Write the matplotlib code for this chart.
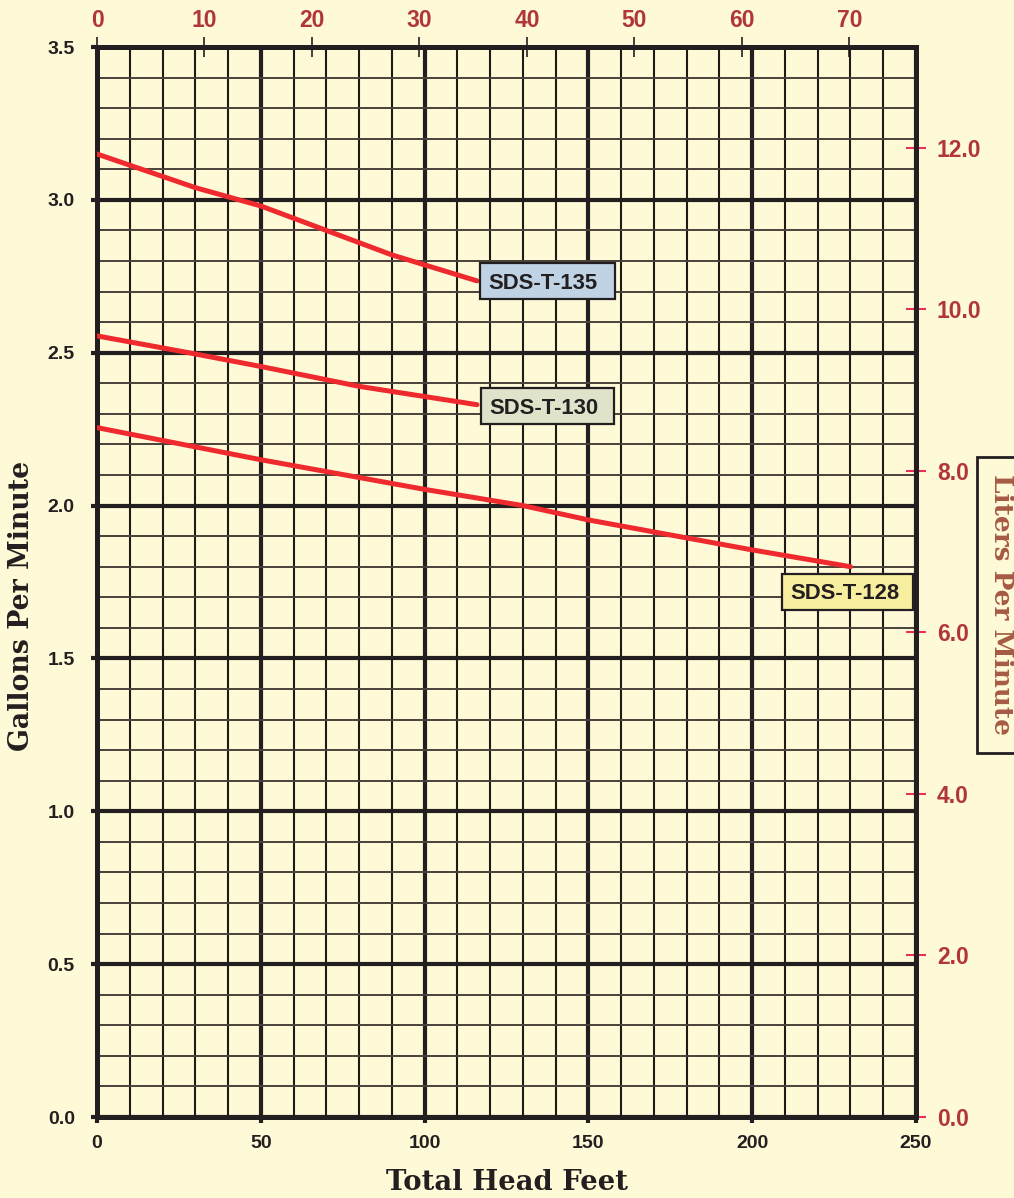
import numpy as np
import matplotlib
matplotlib.use("Agg")
import matplotlib.pyplot as plt
from matplotlib import font_manager
from matplotlib.patches import Rectangle

# ---------------- data ----------------
head_135 = [0, 30, 50, 70, 90, 116]
gpm_135 = [3.15, 3.04, 2.98, 2.90, 2.82, 2.735]

head_130 = [0, 28, 50, 80, 116]
gpm_130 = [2.555, 2.50, 2.455, 2.39, 2.33]

head_128 = [0, 50, 100, 130, 150, 200, 230]
gpm_128 = [2.255, 2.15, 2.053, 2.0, 1.953, 1.855, 1.80]

model_names = ["SDS-T-135", "SDS-T-130", "SDS-T-128"]
x_ticks_ft = [0, 50, 100, 150, 200, 250]
y_ticks_gpm = [0.0, 0.5, 1.0, 1.5, 2.0, 2.5, 3.0, 3.5]
top_ticks_m = [0, 10, 20, 30, 40, 50, 60, 70]
right_ticks_lpm = [0.0, 2.0, 4.0, 6.0, 8.0, 10.0, 12.0]

# ---------------- style ----------------
BG = "#FEF9D6"
INK = "#231F20"
RED_LINE = "#EE2A2E"
RED_TXT = "#B0353D"
RED_TICK = "#E8305A"
BROWN = "#A65A44"

names = {f.name for f in font_manager.fontManager.ttflist}
NARROW = "Liberation Sans Narrow" if "Liberation Sans Narrow" in names else "Liberation Sans"
SANS = "Liberation Sans"
SERIF = "DejaVu Serif"

W, H = 1014, 1198
DPI = 100
fig = plt.figure(figsize=(W / DPI, H / DPI), dpi=DPI, facecolor=BG)

L, R, T, B = 97, 916, 47, 1117
ax = fig.add_axes([L / W, 1 - B / H, (R - L) / W, (B - T) / H])
ax.set_facecolor(BG)
ax.set_xlim(0, 250)
ax.set_ylim(0, 3.5)

ax.set_xticks(x_ticks_ft)
ax.set_xticks(np.arange(0, 251, 10), minor=True)
ax.set_yticks(y_ticks_gpm)
ax.set_yticks(np.arange(0, 3.51, 0.1), minor=True)
ax.set_xticklabels([str(v) for v in x_ticks_ft])
ax.set_yticklabels([f"{v:.1f}" for v in y_ticks_gpm])

ax.grid(which="major", axis="both", color=INK, linewidth=3.0, zorder=1)
ax.grid(which="minor", axis="x", color="#1e1a18", linewidth=1.5, zorder=1)
ax.grid(which="minor", axis="y", color="#4a423a", linewidth=1.4, zorder=1)
ax.set_axisbelow(True)

for s in ax.spines.values():
    s.set_linewidth(3.6)
    s.set_color(INK)

ax.tick_params(which="minor", length=0)
ax.tick_params(which="major", axis="both", direction="out", length=4, width=3,
               color=INK, labelcolor=INK)
ax.tick_params(axis="y", pad=12)
ax.tick_params(axis="x", pad=9)
for lab in ax.get_xticklabels() + ax.get_yticklabels():
    lab.set_fontfamily(NARROW)
    lab.set_fontweight("bold")
    lab.set_fontsize(14)

# lines
lw = 3.6
ax.plot(head_135, gpm_135, color=RED_LINE, lw=lw, solid_capstyle="round", zorder=3)
ax.plot(head_130, gpm_130, color=RED_LINE, lw=lw, solid_capstyle="round", zorder=3)
ax.plot(head_128, gpm_128, color=RED_LINE, lw=lw, solid_capstyle="round", zorder=3)

# secondary axes
top = ax.secondary_xaxis("top", functions=(lambda f: f * 0.3048, lambda m: m / 0.3048))
top.set_xticks(top_ticks_m)
top.set_xticklabels([str(v) for v in top_ticks_m])
top.tick_params(direction="inout", length=14, width=1.2, color=INK,
                labelcolor=RED_TXT, pad=4)
for lab in top.get_xticklabels():
    lab.set_fontfamily(SANS)
    lab.set_fontweight("bold")
    lab.set_fontsize(16.5)
top.spines["top"].set_visible(False)

right = ax.secondary_yaxis("right", functions=(lambda g: g * 3.78541, lambda l: l / 3.78541))
right.set_yticks(right_ticks_lpm)
right.set_yticklabels([f"{v:.1f}" for v in right_ticks_lpm])
right.tick_params(direction="inout", length=14, width=1.5, color=RED_TICK,
                  labelcolor=RED_TXT, pad=8)
for lab in right.get_yticklabels():
    lab.set_fontfamily(SANS)
    lab.set_fontweight("bold")
    lab.set_fontsize(16.5)
right.spines["right"].set_visible(False)

# axis titles
fig.text(22 / W, 1 - 606 / H, "Gallons Per Minute", rotation=90, ha="center", va="center",
         fontfamily=SERIF, fontweight="bold", fontsize=19.3, color=INK)
fig.text(507 / W, 1 - 1183 / H, "Total Head Feet", ha="center", va="center",
         fontfamily=SERIF, fontweight="bold", fontsize=19.8, color=INK)

# right title box
fig.patches.append(Rectangle(((977) / W, 1 - 753 / H), 60 / W, (753 - 457) / H,
                             transform=fig.transFigure, facecolor=BG, edgecolor=INK,
                             linewidth=2.0, zorder=1))
fig.text(1002 / W, 1 - 605 / H, "Liters Per Minute", rotation=270, ha="center", va="center",
         fontfamily=SERIF, fontweight="bold", fontsize=19, color=BROWN, zorder=2)

# curve labels: (name, line end, text offset px, right padding px, face colour)
label_specs = [
    (model_names[0], (head_135[-1], gpm_135[-1]), (11, 0), 18, "#BFD3E5"),
    (model_names[1], (head_130[-1], gpm_130[-1]), (12, -1.5), 16, "#DEE3C9"),
    (model_names[2], (head_128[-1], gpm_128[-1]), (-60, -25), 13, "#F8EE9F"),
]
fs = 15.8
fs_px = fs * DPI / 72
cap = 0.70 * fs_px
texts = []
for name, end, (dx, dy), rpad, fc in label_specs:
    ex, ey = ax.transData.transform(end)
    cx = ex + dx
    cy = ey + dy
    fx, fy = fig.transFigure.inverted().transform((cx, cy - cap / 2))
    t = fig.text(fx, fy, name, ha="left", va="baseline", fontfamily=SANS,
                 fontweight="bold", fontsize=fs, color=INK, zorder=3)
    texts.append((t, cx, cy, rpad, fc))

fig.canvas.draw()
r = fig.canvas.get_renderer()
for t, cx, cy, rpad, fc in texts:
    ext = t.get_window_extent(renderer=r)
    x0 = ext.x0 - 8
    x1 = ext.x1 + rpad
    y0 = cy - 18
    y1 = cy + 18
    inv = fig.transFigure.inverted()
    (fx0, fy0), (fx1, fy1) = inv.transform([(x0, y0), (x1, y1)])
    fig.patches.append(Rectangle((fx0, fy0), fx1 - fx0, fy1 - fy0, transform=fig.transFigure,
                                 facecolor=fc, edgecolor=INK, linewidth=1.6, zorder=2))

fig.savefig("out.png", dpi=DPI, facecolor=BG)
